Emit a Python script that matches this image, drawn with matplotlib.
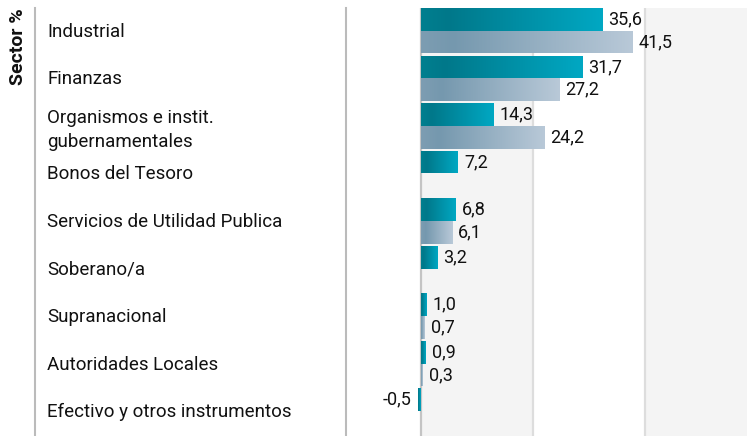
import numpy as np
import matplotlib
matplotlib.use("Agg")
import matplotlib.pyplot as plt
from matplotlib.colors import LinearSegmentedColormap
from matplotlib.lines import Line2D
import matplotlib.transforms as mtransforms

plt.rcParams['font.family'] = ['Roboto', 'DejaVu Sans']

categories = ["Industrial", "Finanzas", "Organismos e instit.\ngubernamentales",
              "Bonos del Tesoro", "Servicios de Utilidad Publica", "Soberano/a",
              "Supranacional", "Autoridades Locales", "Efectivo y otros instrumentos"]
fund = [35.6, 31.7, 14.3, 7.2, 6.8, 3.2, 1.0, 0.9, -0.5]
index = [41.5, 27.2, 24.2, np.nan, 6.1, np.nan, 0.7, 0.3, np.nan]
axis_title = "Sector %"
band_edges = [0, 22, 44]

W, H = 747, 436
fig = plt.figure(figsize=(W / 100, H / 100), dpi=100)
ax = fig.add_axes([346 / W, 0, 1 - 346 / W, 1 - 8 / H])
xmin, xmax = -14.75, 64.1
n = len(categories)

ax.axvspan(band_edges[0], band_edges[1], color="#f4f4f4", zorder=0, lw=0)
ax.axvspan(band_edges[2], xmax, color="#f4f4f4", zorder=0, lw=0)
ax.axvline(0, color="#c4c4c4", lw=1.6, zorder=1)
for g in band_edges[1:]:
    ax.axvline(g, color="#dddddd", lw=1.6, zorder=1)

teal_cmap = LinearSegmentedColormap.from_list(
    "teal", [(0, "#007f8f"), (0.15, "#00788a"), (1, "#00a8c3")])
gray_cmap = LinearSegmentedColormap.from_list(
    "grayb", [(0, "#7d9db2"), (0.15, "#7598ae"), (1, "#b9c9d8")])

h = 0.478
y = np.arange(n)
fund_arr = np.array(fund)
idx_arr = np.array(index)
mask = ~np.isnan(idx_arr)

b1 = ax.barh(y + h / 2, fund_arr, height=h, color="none", lw=0, zorder=2)
b2 = ax.barh((y + 1.5 * h)[mask], idx_arr[mask], height=h, color="none", lw=0, zorder=2)

grad = np.linspace(0, 1, 256).reshape(1, -1)
for bars, cmap in ((b1, teal_cmap), (b2, gray_cmap)):
    for p in bars.patches:
        x0, y0 = p.get_x(), p.get_y()
        w, hh = p.get_width(), p.get_height()
        left, right = min(x0, x0 + w), max(x0, x0 + w)
        im = ax.imshow(grad, cmap=cmap, extent=[left, right, y0 + hh, y0],
                       aspect="auto", zorder=2, interpolation="bilinear")
        im.set_clip_path(p)

VFS = 13
for yi, v in zip(y + h / 2, fund_arr):
    if v >= 0:
        ax.annotate(f"{v:.1f}".replace(".", ","), (v, yi), xytext=(4.5, 0),
                    textcoords="offset points", ha="left", va="center",
                    fontsize=VFS, color="#111111", zorder=3)
    else:
        ax.annotate(f"{v:.1f}".replace(".", ","), (v, yi), xytext=(-5, 0),
                    textcoords="offset points", ha="right", va="center",
                    fontsize=VFS, color="#111111", zorder=3)
for yi, v in zip((y + 1.5 * h)[mask], idx_arr[mask]):
    ax.annotate(f"{v:.1f}".replace(".", ","), (v, yi), xytext=(4.5, 0),
                textcoords="offset points", ha="left", va="center",
                fontsize=VFS, color="#111111", zorder=3)

ax.set_xlim(xmin, xmax)
ax.set_ylim(n, 0)
ax.axis("off")

trans = mtransforms.blended_transform_factory(fig.transFigure, ax.transData)
for i, c in enumerate(categories):
    multi = "\n" in c
    ax.text(47 / W, i + 0.5 + (0.06 if multi else 0), c, transform=trans,
            ha="left", va="center", fontsize=13.5, color="#111111",
            linespacing=1.45, clip_on=False)

for xpx in (35, 346):
    fig.add_artist(Line2D([xpx / W, xpx / W], [0, 1 - 8 / H],
                          transform=fig.transFigure, color="#bbbbbb", lw=1.5))

fig.text(18 / W, 1 - 8 / H, axis_title, rotation=90, ha="center", va="top",
         fontsize=14, fontweight="bold", color="#111111")

fig.savefig("out.png", dpi=100)
